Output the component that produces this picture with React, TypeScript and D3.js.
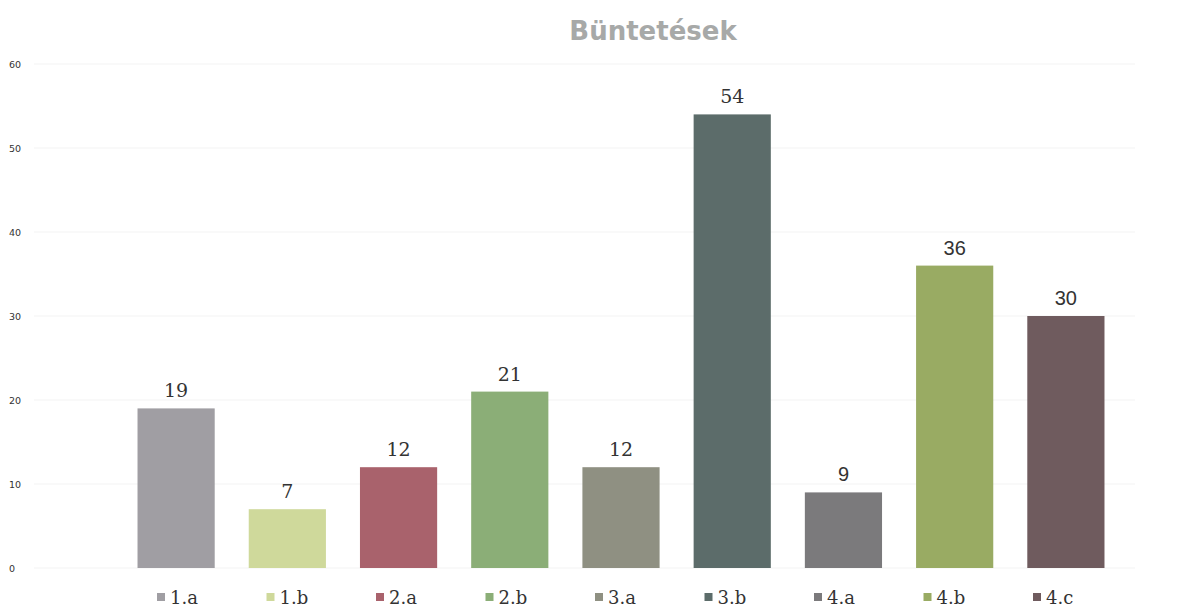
import React from "react";
import * as d3 from "d3";

const categories = ["1.a", "1.b", "2.a", "2.b", "3.a", "3.b", "4.a", "4.b", "4.c"];
const values = [19, 7, 12, 21, 12, 54, 9, 36, 30];
const colors = ["#a09ea3", "#cfd99b", "#a9626c", "#8bae77", "#8f9082", "#5c6c6a", "#7b7a7c", "#99ab63", "#6f5b5e"];
const labelFonts = ["serif", "serif", "serif", "serif", "serif", "serif", "sans", "sans", "sans"];
const yTicks = [0, 10, 20, 30, 40, 50, 60];
const title = "Büntetések";

const W = 1195;
const H = 612;

export default function App() {
  const x = d3.scaleBand<string>().domain(categories).range([120.5, 1121.5]).paddingInner(0.306).paddingOuter(0.153);
  const y = d3.scaleLinear().domain([0, 60]).range([568, 64]);
  const lx = d3.scalePoint<string>().domain(categories).range([157, 1033]);
  const serif = "'DejaVu Serif', 'Liberation Serif', serif";
  const sans = "'Liberation Sans', Arial, sans-serif";
  return (
    <svg width={W} height={H} style={{ position: "absolute", left: 0, top: 0, background: "#fff" }}>
      <rect x={0} y={0} width={W} height={H} fill="#fff" />
      <text x={653} y={40} textAnchor="middle" fontFamily="'DejaVu Sans', Lato, sans-serif" fontWeight="bold" fontSize={26} fill="#a7a9a8">
        {title}
      </text>
      {yTicks.map((t) => (
        <g key={t}>
          <line x1={34} x2={1135} y1={y(t)} y2={y(t)} stroke="#f3f3f3" strokeWidth={1} />
          <text x={9} y={y(t) + 3.5} fontFamily="'DejaVu Sans', sans-serif" fontSize={9.5} fill="#333">
            {t}
          </text>
        </g>
      ))}
      {categories.map((c, i) => {
        const bx = x(c)!;
        const bw = x.bandwidth();
        return (
          <g key={c}>
            <rect x={bx} y={y(values[i])} width={bw} height={y(0) - y(values[i])} fill={colors[i]} />
            <text
              x={bx + bw / 2}
              y={y(values[i]) - 11}
              textAnchor="middle"
              fontFamily={labelFonts[i] === "serif" ? serif : sans}
              fontSize={labelFonts[i] === "serif" ? 19 : 20}
              fill="#333"
            >
              {values[i]}
            </text>
          </g>
        );
      })}
      {categories.map((c, i) => {
        const sx = lx(c)!;
        return (
          <g key={"lg" + c}>
            <rect x={sx} y={593} width={8} height={8} fill={colors[i]} />
            <text x={sx + 13} y={604} fontFamily={serif} fontSize={18} fill="#333">
              {c}
            </text>
          </g>
        );
      })}
    </svg>
  );
}
